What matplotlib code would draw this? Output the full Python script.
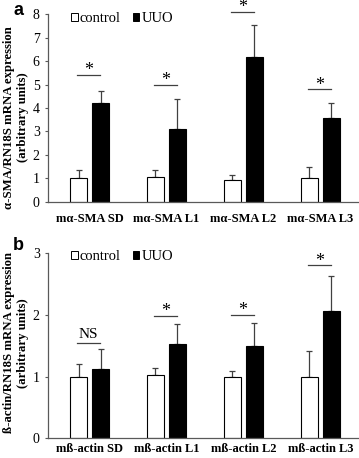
import matplotlib
matplotlib.use("Agg")
import matplotlib.pyplot as plt
from matplotlib.patches import Rectangle
import numpy as np

plt.rcParams['font.family'] = ['Liberation Serif', 'DejaVu Serif']

# ---- data: panel a ----
cats_a = ["mα-SMA SD", "mα-SMA L1", "mα-SMA L2", "mα-SMA L3"]
ctrl_a = [1.00, 1.05, 0.92, 1.02]
ctrl_a_err = [0.34, 0.29, 0.24, 0.44]
uuo_a = [4.22, 3.10, 6.18, 3.58]
uuo_a_err = [0.51, 1.30, 1.36, 0.65]
sig_a_y = [5.41, 5.00, 8.10, 4.79]
sig_a_txt = ["*", "*", "*", "*"]
yticks_a = [0, 1, 2, 3, 4, 5, 6, 7, 8]
ylabel_a = "α-SMA/RN18S mRNA expression\n(arbitrary units)"

# ---- data: panel b ----
cats_b = ["mß-actin SD", "mß-actin L1", "mß-actin L2", "mß-actin L3"]
ctrl_b = [1.00, 1.02, 1.00, 1.00]
ctrl_b_err = [0.20, 0.12, 0.09, 0.41]
uuo_b = [1.13, 1.53, 1.49, 2.06]
uuo_b_err = [0.31, 0.32, 0.37, 0.56]
sig_b_y = [1.54, 1.98, 2.00, 2.80]
sig_b_txt = ["NS", "*", "*", "*"]
yticks_b = [0, 1, 2, 3]
ylabel_b = "ß-actin/RN18S mRNA expression\n(arbitrary units)"

W, H = 359, 458
fig = plt.figure(figsize=(W / 100, H / 100), dpi=100)

bw = 0.227
off = 0.143
axcol = '#595959'
errcol = '#404040'


def panel(rect, cats, ctrl, ctrl_err, uuo, uuo_err, sig_y, sig_txt, yticks,
          ylabel, letter, letter_base_px, xlab_pad, leg_y, ylab_y):
    ax = fig.add_axes(rect)
    x = np.arange(len(cats))
    ax.bar(x - off, ctrl, bw, color='white', edgecolor='black', linewidth=0.8, zorder=2)
    ax.bar(x + off, uuo, bw, color='black', edgecolor='black', linewidth=0.8, zorder=2)
    for xs, m, e in ((x - off, ctrl, ctrl_err), (x + off, uuo, uuo_err)):
        ax.errorbar(xs, m, yerr=[np.zeros(len(e)), e], fmt='none', ecolor=errcol,
                    elinewidth=0.9, capsize=2.3, capthick=0.9, zorder=1)
    for xi, yy, t in zip(x, sig_y, sig_txt):
        ax.plot([xi - 0.165, xi + 0.14], [yy, yy], color=errcol, lw=0.9, clip_on=False)
        if t == '*':
            ax.annotate(t, (xi - 0.01, yy), xytext=(0, 3.0), textcoords='offset points',
                        ha='center', va='center', fontsize=13, annotation_clip=False)
        else:
            ax.annotate(t, (xi - 0.01, yy), xytext=(0, 6.0), textcoords='offset points',
                        ha='center', va='center', fontsize=11, annotation_clip=False)
    ax.set_xlim(-0.54, 3.49)
    ax.set_ylim(yticks[0], yticks[-1])
    ax.set_yticks(yticks)
    ax.set_xticks(x)
    ax.set_xticklabels(cats, fontweight='bold', fontsize=9)
    ax.tick_params(axis='x', length=0, pad=xlab_pad)
    ax.tick_params(axis='y', direction='out', length=2.5, width=0.8, color=axcol,
                   labelsize=10, pad=3.5)
    for s in ('top', 'right'):
        ax.spines[s].set_visible(False)
    for s in ('left', 'bottom'):
        ax.spines[s].set_color(axcol)
        ax.spines[s].set_linewidth(0.9)
    ax.set_ylabel(ylabel, fontweight='bold', fontsize=9.2, linespacing=1.2)
    ax.yaxis.set_label_coords(-0.062, ylab_y)
    h1 = Rectangle((0, 0), 1, 1, facecolor='white', edgecolor='black', linewidth=0.7)
    h2 = Rectangle((0, 0), 1, 1, facecolor='black', edgecolor='black', linewidth=0.7)
    ax.legend([h1, h2], ['control', 'UUO'], ncol=2, frameon=False,
              loc='center left', bbox_to_anchor=(0.075, leg_y), borderpad=0,
              handlelength=0.45, handleheight=0.45, handletextpad=0.15,
              columnspacing=0.8, fontsize=10.5, borderaxespad=0)
    fig.text(13 / W, 1 - letter_base_px / H, letter, family='Liberation Sans',
             fontweight='bold', fontsize=13, ha='left', va='baseline')
    return ax


panel([48 / W, 1 - 201.7 / H, 310 / W, 187.4 / H], cats_a, ctrl_a, ctrl_a_err,
      uuo_a, uuo_a_err, sig_a_y, sig_a_txt, yticks_a, ylabel_a, 'a', 15, 8, 0.975, 0.45)
panel([48 / W, 1 - 438.3 / H, 310 / W, 185.3 / H], cats_b, ctrl_b, ctrl_b_err,
      uuo_b, uuo_b_err, sig_b_y, sig_b_txt, yticks_b, ylabel_b, 'b', 250, 3.5, 0.982, 0.515)

fig.savefig('out.png', dpi=100)
